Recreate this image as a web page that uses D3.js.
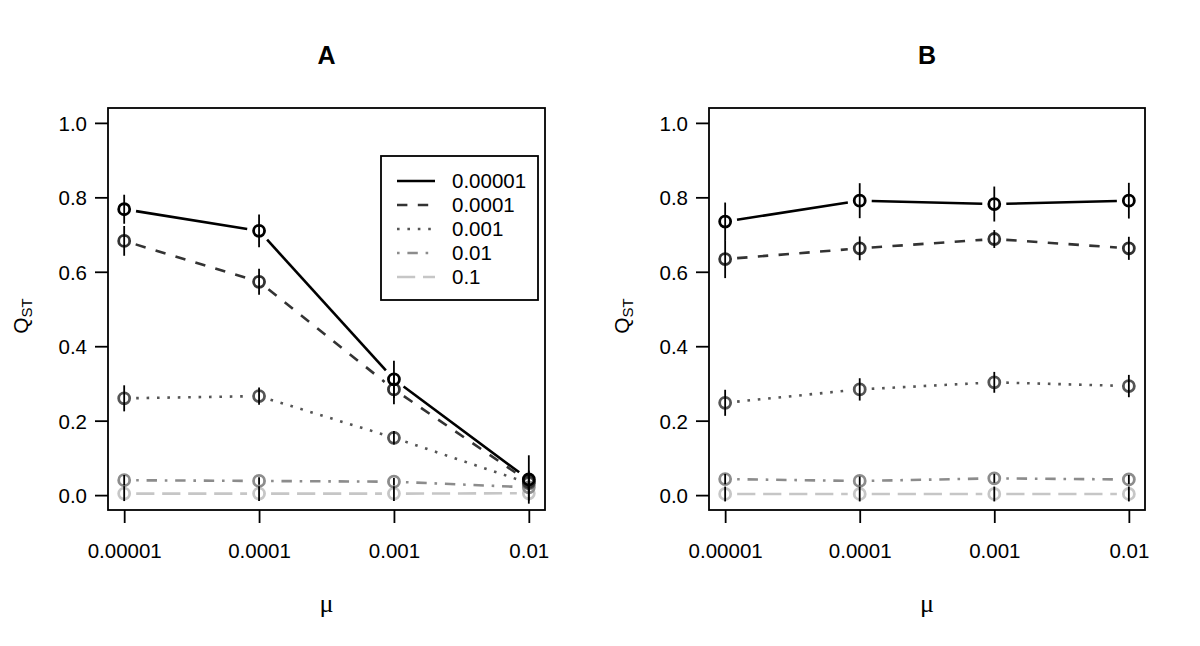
<!DOCTYPE html>
<html><head><meta charset="utf-8">
<script src="https://cdn.jsdelivr.net/npm/d3@7"></script>
<style>body{margin:0;background:#fff}svg{display:block}</style>
</head><body>
<script>
// ---- data ----
const muLabels = ["0.00001","0.0001","0.001","0.01"];
const seriesNames = ["0.00001","0.0001","0.001","0.01","0.1"];
const yTicks = [0,0.2,0.4,0.6,0.8,1.0];
const panelTitles = ["A","B"];

// Panel A means and error half-widths, one row per series
const meanA1 = [0.768, 0.710, 0.311, 0.042];
const meanA2 = [0.683, 0.573, 0.284, 0.036];
const meanA3 = [0.260, 0.266, 0.154, 0.032];
const meanA4 = [0.040, 0.038, 0.036, 0.021];
const meanA5 = [0.004, 0.004, 0.004, 0.005];
const errA1 = [0.039, 0.044, 0.050, 0.065];
const errA2 = [0.040, 0.035, 0.040, 0.030];
const errA3 = [0.035, 0.023, 0.018, 0.020];
const errA4 = [0.014, 0.010, 0.010, 0.010];
const errA5 = [0.020, 0.020, 0.020, 0.020];

// Panel B
const meanB1 = [0.735, 0.791, 0.782, 0.791];
const meanB2 = [0.634, 0.663, 0.688, 0.663];
const meanB3 = [0.248, 0.284, 0.303, 0.293];
const meanB4 = [0.043, 0.038, 0.045, 0.042];
const meanB5 = [0.003, 0.003, 0.003, 0.003];
const errB1 = [0.051, 0.047, 0.047, 0.048];
const errB2 = [0.051, 0.032, 0.024, 0.031];
const errB3 = [0.035, 0.030, 0.028, 0.030];
const errB4 = [0.014, 0.012, 0.012, 0.012];
const errB5 = [0.020, 0.020, 0.020, 0.020];

const panels = [
  {title: panelTitles[0], means:[meanA1,meanA2,meanA3,meanA4,meanA5], errs:[errA1,errA2,errA3,errA4,errA5], legend:true},
  {title: panelTitles[1], means:[meanB1,meanB2,meanB3,meanB4,meanB5], errs:[errB1,errB2,errB3,errB4,errB5], legend:false}
];

// ---- styles ----
const LW = 2.6;
const colors = ["#000000","#333333","#555555","#8c8c8c","#c6c6c6"];
const dashes = [null, `${4*LW},${4*LW}`, `${LW},${3*LW}`, `${LW},${3*LW},${4*LW},${3*LW}`, `${7*LW},${3*LW}`];
const FONT = "'Liberation Sans', Arial, Helvetica, sans-serif";

const W = 1200, H = 646;
const svg = d3.select("body").append("svg").attr("width", W).attr("height", H)
  .style("font-family", FONT);

const boxes = [{l:108, r:545}, {l:709, r:1145}];
const boxTop = 108, boxBottom = 510;

panels.forEach((p, pi) => {
  const b = boxes[pi];
  const x = d3.scaleLinear().domain([-0.12, 3.12]).range([b.l, b.r]);
  const y = d3.scaleLinear().domain([-0.04, 1.04]).range([boxBottom, boxTop]);
  const g = svg.append("g");

  // title
  g.append("text").attr("x", (b.l+b.r)/2).attr("y", 64).attr("text-anchor","middle")
    .attr("font-size", 25).attr("font-weight","bold").text(p.title);

  // y axis
  const ya = g.append("g").attr("transform", `translate(${b.l},0)`)
    .call(d3.axisLeft(y).tickValues(yTicks).tickFormat(d3.format(".1f")).tickSize(13).tickPadding(8));
  ya.select(".domain").remove();
  ya.selectAll("line").attr("stroke","#000").attr("stroke-width",1.8);
  ya.selectAll("text").attr("font-size",20.5).attr("font-family",FONT).attr("fill","#000").attr("dy","0.36em");

  // x axis
  const xa = g.append("g").attr("transform", `translate(0,${boxBottom})`)
    .call(d3.axisBottom(x).tickValues([0,1,2,3]).tickFormat(i => muLabels[i]).tickSize(13).tickPadding(20));
  xa.select(".domain").remove();
  xa.selectAll("line").attr("stroke","#000").attr("stroke-width",1.8);
  xa.selectAll("text").attr("font-size",20.5).attr("font-family",FONT).attr("fill","#000");

  // box
  g.append("rect").attr("x", b.l).attr("y", boxTop).attr("width", b.r-b.l).attr("height", boxBottom-boxTop)
    .attr("fill","none").attr("stroke","#000").attr("stroke-width",1.8);

  // axis labels
  const ql = g.append("text").attr("transform", `translate(${b.l-80},316) rotate(-90)`)
    .attr("text-anchor","middle").attr("font-size",21);
  ql.append("tspan").text("Q");
  ql.append("tspan").attr("font-size",15).attr("dy",4).text("ST");
  g.append("text").attr("x",(b.l+b.r)/2).attr("y",612).attr("text-anchor","middle")
    .attr("font-size",26).attr("font-family","'Liberation Serif','DejaVu Serif',serif").text("\u03bc");

  // series lines with gaps (type = "b")
  const gap = 12;
  p.means.forEach((m, si) => {
    for (let i = 0; i < m.length-1; i++) {
      const x0 = x(i), y0 = y(m[i]), x1 = x(i+1), y1 = y(m[i+1]);
      const dx = x1-x0, dy = y1-y0, len = Math.hypot(dx,dy);
      if (len <= 2*gap) continue;
      const ux = dx/len, uy = dy/len;
      g.append("line")
        .attr("x1", x0+ux*gap).attr("y1", y0+uy*gap)
        .attr("x2", x1-ux*gap).attr("y2", y1-uy*gap)
        .attr("stroke", colors[si]).attr("stroke-width", LW)
        .attr("stroke-dasharray", dashes[si]);
    }
  });

  // points (draw lighter first so black is on top)
  for (let si = p.means.length-1; si >= 0; si--) {
    g.selectAll(null).data(p.means[si]).enter().append("circle")
      .attr("cx",(d,i)=>x(i)).attr("cy",d=>y(d)).attr("r",5.5)
      .attr("fill","none").attr("stroke",colors[si]).attr("stroke-width",2.8);
  }
  // error bars
  p.means.forEach((m, si) => {
    g.selectAll(null).data(m).enter().append("line")
      .attr("x1",(d,i)=>x(i)).attr("x2",(d,i)=>x(i))
      .attr("y1",(d,i)=>y(d+p.errs[si][i])).attr("y2",(d,i)=>y(d-p.errs[si][i]))
      .attr("stroke","#000").attr("stroke-width",1.8);
  });

  // legend
  if (p.legend) {
    const lg = g.append("g");
    lg.append("rect").attr("x",381).attr("y",156).attr("width",157).attr("height",144)
      .attr("fill","#fff").attr("stroke","#000").attr("stroke-width",1.8);
    seriesNames.forEach((nm, si) => {
      const yy = 181 + si*24;
      lg.append("line").attr("x1",397).attr("x2",435).attr("y1",yy).attr("y2",yy)
        .attr("stroke",colors[si]).attr("stroke-width",LW).attr("stroke-dasharray",dashes[si]);
      lg.append("text").attr("x",452).attr("y",yy).attr("dy","0.36em")
        .attr("font-size",20.5).text(nm);
    });
  }
});
</script>
</body></html>
